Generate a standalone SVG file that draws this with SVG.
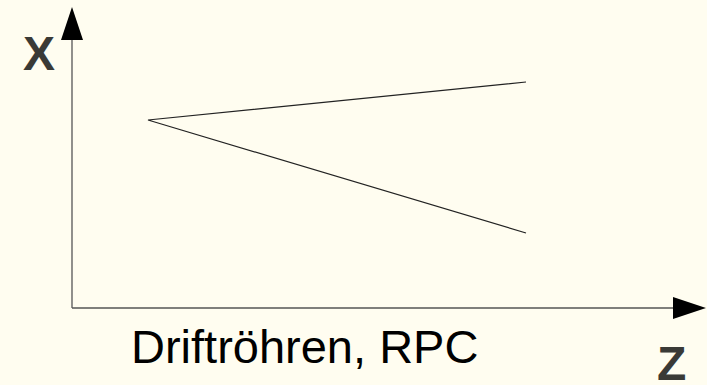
<svg xmlns="http://www.w3.org/2000/svg" width="707" height="385" viewBox="0 0 707 385">
  <style>
    .axis { stroke: #555; stroke-width: 1.3; fill: none; }
    .ray { stroke: #222; stroke-width: 1.2; fill: none; }
    .lbl { font-family: "Liberation Sans", Arial, sans-serif; font-weight: bold; font-size: 48px; fill: #3a3a36; }
    .cap { font-family: "Liberation Sans", Arial, sans-serif; font-size: 47px; fill: #000; }
  </style>
  <rect width="707" height="385" fill="#FFFDF0"/>
  <g id="connectors">
    <line class="axis" x1="72" y1="308" x2="72" y2="38"/>
    <polygon points="72,7 61,40 83,40" fill="#000"/>
    <line class="axis" x1="72" y1="308" x2="675" y2="308"/>
    <polygon points="706,308 673,297 673,319" fill="#000"/>
    <polyline class="ray" points="526,82 148,120 526,233"/>
  </g>
  <g id="label-x"><text class="lbl" x="23" y="70">X</text></g>
  <g id="label-z"><text class="lbl" x="657" y="380">Z</text></g>
  <g id="caption"><text class="cap" x="131" y="363">Driftröhren, RPC</text></g>
</svg>
